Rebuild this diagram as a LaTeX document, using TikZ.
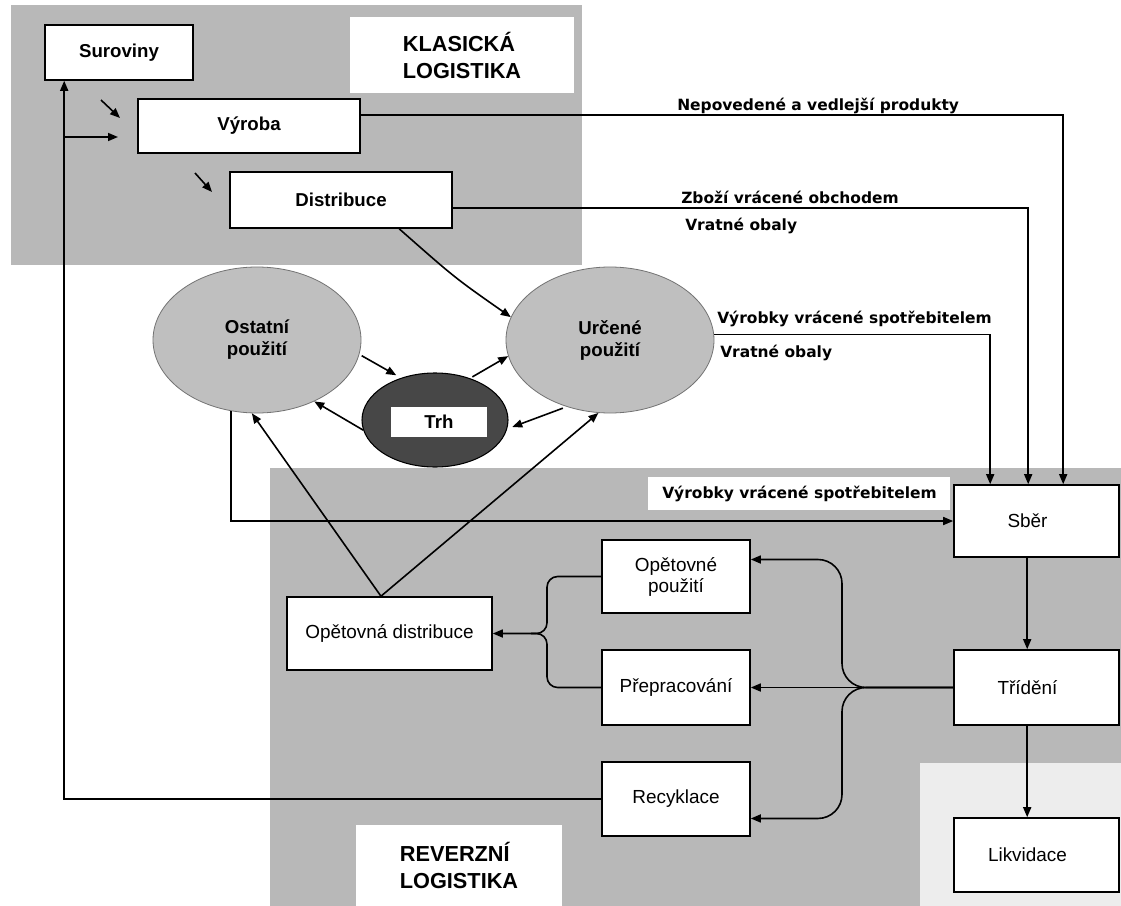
\documentclass[tikz,border=0pt]{standalone}
\usepackage{fontspec}
\setmainfont{Liberation Sans}
\newfontfamily\flowfont{DejaVu Sans}
\usetikzlibrary{arrows.meta,shapes.geometric,calc}

\begin{document}
\begin{tikzpicture}[x=0.75pt,y=-0.75pt,
  conn/.style={line width=1.2pt},
  arr/.style={conn,-{Triangle[length=7.5pt,width=6pt]}},
  box/.style={draw,line width=1.2pt,fill=white,inner sep=0pt},
  boldlbl/.style={font=\fontsize{14}{16.5}\selectfont\bfseries,align=center},
  reglbl/.style={font=\fontsize{14.2}{15.75}\selectfont,align=center},
  flowlbl/.style={font=\flowfont\fontsize{11.6}{14}\selectfont\bfseries,inner sep=0pt,anchor=base west},
  titlelbl/.style={font=\fontsize{16.3}{20.25}\selectfont\bfseries,align=left},
  region/.style={fill=black!28},
  use/.style={ellipse,draw=black!55,line width=0.6pt,fill=black!25,
    minimum width=156pt,minimum height=109.5pt,inner sep=0pt,boldlbl}]

\useasboundingbox (0,0) rectangle (1121,906);
\fill[white] (0,0) rectangle (1121,906);

% shaded areas: classical and reverse logistics
\fill[region] (11,5) rectangle (582,265);
\fill[region] (270,468) rectangle (1121,906);
\fill[black!7] (920,763) rectangle (1121,906);

% area titles
\node[fill=white,inner sep=0pt,minimum width=168pt,minimum height=57pt,titlelbl] (klas) at (462,55) {KLASICKÁ\\LOGISTIKA};
\node[fill=white,inner sep=0pt,minimum width=154.5pt,minimum height=60.75pt,titlelbl] (rev) at (459,865.5) {REVERZNÍ\\LOGISTIKA};
\node[fill=white,inner sep=0pt,minimum width=226.5pt,minimum height=24.75pt] (retbox) at (799,493.5) {};
\node[flowlbl] (retlbl) at (662,498) {Výrobky vrácené spotřebitelem};

% classical chain
\node[box,boldlbl,minimum width=111pt,minimum height=41.25pt] (sur) at (119,52.5) {Suroviny};
\node[box,boldlbl,minimum width=166.5pt,minimum height=40.5pt] (vyr) at (249,126) {Výroba};
\node[box,boldlbl,minimum width=166.5pt,minimum height=42pt] (dis) at (341,200) {Distribuce};

% use and market
\node[use] (ost) at (257,340) {Ostatní\\použití};
\node[use] (urc) at (610,340) {Určené\\použití};
\node[ellipse,draw,line width=0.8pt,fill=black!72,minimum width=109.5pt,
  minimum height=70.5pt,inner sep=0pt] (trh) at (435,420) {};
\node[fill=white,inner sep=0pt,boldlbl,minimum width=72pt,minimum height=22.5pt] (trhbox) at (439,422) {Trh};

% reverse chain
\node[box,minimum width=123.75pt,minimum height=54pt] (sber) at (1036.5,521) {};
\node[box,minimum width=123.75pt,minimum height=56.25pt] (trid) at (1036.5,687.5) {};
\node[box,minimum width=123.75pt,minimum height=55.5pt] (likv) at (1036.5,855) {};
\node[reglbl] (sbertxt) at ([xshift=-6.75pt]sber.center) {Sběr};
\node[reglbl] (tridtxt) at ([xshift=-6.75pt]trid.center) {Třídění};
\node[reglbl] (likvtxt) at ([xshift=-6.75pt]likv.center) {Likvidace};
\node[box,reglbl,minimum width=111pt,minimum height=54.75pt] (opp) at (676,576.5) {Opětovné\\použití};
\node[box,reglbl,minimum width=111pt,minimum height=56.25pt] (prep) at (676,687.5) {Přepracování};
\node[box,reglbl,minimum width=111pt,minimum height=55.5pt] (recy) at (676,799) {Recyklace};
\node[box,reglbl,minimum width=153.75pt,minimum height=54.75pt] (odist) at (389.5,633.5) {Opětovná distribuce};

% small flow marks beside the classical chain
\coordinate (m1a) at (101,100); \coordinate (m1b) at (120,118);
\coordinate (m2a) at (65,137);  \coordinate (m2b) at (118,137);
\coordinate (m3a) at (195,173); \coordinate (m3b) at (212,192);
\draw[arr] (m1a) -- (m1b);
\draw[arr] (m2a) -- (m2b);
\draw[arr] (m3a) -- (m3b);

% recycled material back to raw materials
\draw[arr] (recy.west) -| ([xshift=15pt]sur.south west);

% returns into collection
\draw[arr] ([yshift=8.25pt]vyr.east) -| ([xshift=82.5pt]sber.north west);
\draw[arr] ([yshift=-6pt]dis.east) -| ([xshift=56.25pt]sber.north west);
\draw[arr] (urc.3) -| ([xshift=27.75pt]sber.north west);
\draw[arr] (ost.-110) |- (sber.west);

\node[flowlbl] (l1) at (677,110) {Nepovedené a vedlejší produkty};
\node[flowlbl] (l2) at (681,203) {Zboží vrácené obchodem};
\node[flowlbl] (l3) at (685,230) {Vratné obaly};
\node[flowlbl] (l4) at (717,323) {Výrobky vrácené spotřebitelem};
\node[flowlbl] (l5) at (720,357) {Vratné obaly};

% distribution to intended use, market exchanges
\draw[arr] ([xshift=127.5pt]dis.south west) .. controls (455,278) .. (urc.167);
\draw[arr,shorten <=2pt,shorten >=4pt] (ost.-8) -- (trh.129);
\draw[arr,shorten <=2pt] (trh.50) -- (urc.-171);
\draw[arr,shorten <=3pt,shorten >=4pt] (urc.-123) -- (trh.-7);
\draw[arr] (trh.-172) -- (ost.-47);

% redistribution back to use
\draw[arr] ([xshift=-6.4pt]odist.north) -- (ost.-94);
\draw[arr] ([xshift=-6.4pt]odist.north) -- (urc.-99);

% collection and sorting
\draw[arr] ([xshift=55.5pt]sber.south west) -- ([xshift=55.5pt]trid.north west);
\draw[arr] ([xshift=55.5pt]trid.south west) -- ([xshift=55.5pt]likv.north west);

% sorting splits into reuse, reprocessing and recycling
\coordinate (brR) at (842,0);
\coordinate (oppin) at ([yshift=12.75pt]opp.east);
\coordinate (recin) at ([yshift=-14.6pt]recy.east);
\draw[arr] (trid.west) -- (prep.east);
\draw[arr,rounded corners=18pt] (trid.west) -- (trid.west -| brR) -- (brR |- oppin) -- (oppin);
\draw[arr,rounded corners=18pt] (trid.west) -- (trid.west -| brR) -- (brR |- recin) -- (recin);

% reuse and reprocessing join into redistribution
\coordinate (brL) at (547,0);
\draw[arr,rounded corners=8pt] (opp.west) -- (opp.west -| brL) -- (brL |- odist.east) -- (odist.east);
\draw[conn,rounded corners=8pt] (prep.west) -- (prep.west -| brL) -- (brL |- odist.east) -- ([xshift=-12pt]brL |- odist.east);
\end{tikzpicture}
\end{document}
